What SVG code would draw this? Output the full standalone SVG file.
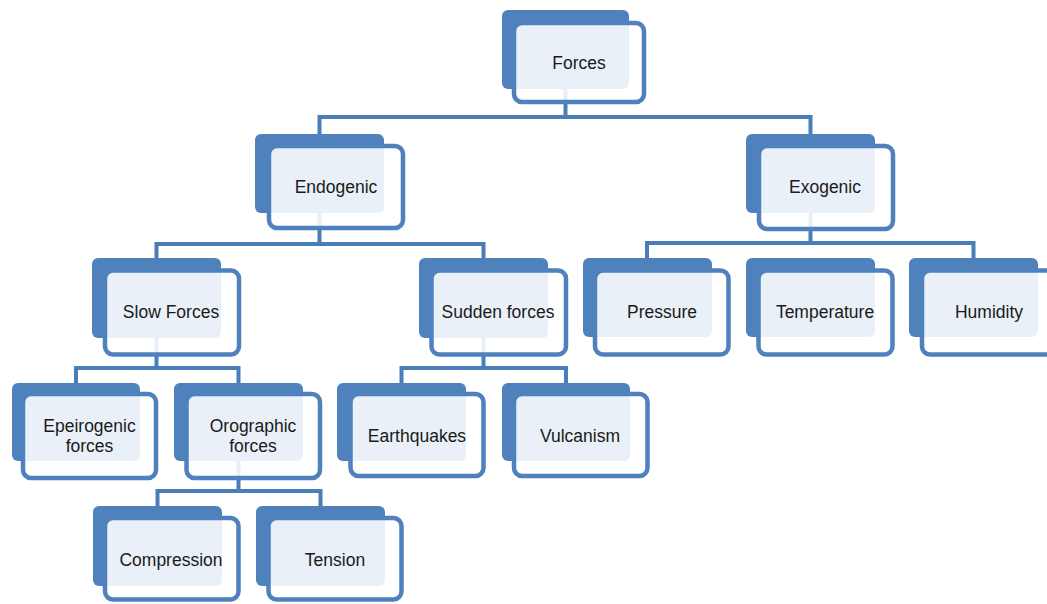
<svg xmlns="http://www.w3.org/2000/svg" width="1047" height="604" viewBox="0 0 1047 604">
<style>
.back{fill:#4F81BD}
.front{fill:#FFFFFF;fill-opacity:0.88;stroke:#4F81BD;stroke-width:4.5}
.conn{fill:none;stroke:#4A7EBB;stroke-width:4}
text{font-family:"Liberation Sans",Arial,sans-serif;font-size:17.5px;fill:#1A1A1A;text-anchor:middle}
</style>
<rect width="1047" height="604" fill="#FFFFFF"/>
<g id="connectors">
<path class="conn" d="M565.5,89 V117 M319.5,134 V117 H810.5 V134"/>
<path class="conn" d="M319.5,213 V244 M156.5,258 V244 H483.5 V258"/>
<path class="conn" d="M810.5,213 V243 M647,258 V243 H973.5 V258"/>
<path class="conn" d="M156.5,338 V368 M76,383 V368 H238.5 V383"/>
<path class="conn" d="M483.5,338 V368 M401.5,383 V368 H566 V383"/>
<path class="conn" d="M238.5,461 V491 M157.5,506 V491 H320.5 V506"/>
</g>
<g id="forces">
<rect class="back" x="502" y="10" width="127" height="79" rx="6"/>
<rect class="front" x="514" y="23" width="130" height="79" rx="8"/>
<text x="579" y="69">Forces</text>
</g>
<g id="endogenic">
<rect class="back" x="255" y="134" width="129" height="79" rx="6"/>
<rect class="front" x="269" y="146" width="134" height="82" rx="8"/>
<text x="336" y="193">Endogenic</text>
</g>
<g id="exogenic">
<rect class="back" x="746" y="134" width="129" height="79" rx="6"/>
<rect class="front" x="759" y="146" width="134" height="83" rx="8"/>
<text x="825" y="193">Exogenic</text>
</g>
<g id="slow-forces">
<rect class="back" x="92" y="258" width="129" height="80" rx="6"/>
<rect class="front" x="105" y="270.5" width="134" height="84" rx="8"/>
<text x="171" y="318">Slow Forces</text>
</g>
<g id="sudden-forces">
<rect class="back" x="419" y="258" width="129" height="80" rx="6"/>
<rect class="front" x="431.5" y="270.5" width="134.5" height="84" rx="8"/>
<text x="498" y="318">Sudden forces</text>
</g>
<g id="pressure">
<rect class="back" x="583" y="258" width="129" height="79" rx="6"/>
<rect class="front" x="595" y="270.5" width="133.5" height="84" rx="8"/>
<text x="662" y="318">Pressure</text>
</g>
<g id="temperature">
<rect class="back" x="746" y="258" width="129" height="79" rx="6"/>
<rect class="front" x="758.5" y="270.5" width="134" height="84" rx="8"/>
<text x="825" y="318">Temperature</text>
</g>
<g id="humidity">
<rect class="back" x="909" y="258" width="129" height="79" rx="6"/>
<rect class="front" x="922" y="270.5" width="134" height="84" rx="8"/>
<text x="989" y="318">Humidity</text>
</g>
<g id="epeirogenic">
<rect class="back" x="12" y="383" width="128" height="78" rx="6"/>
<rect class="front" x="23" y="394" width="133" height="84" rx="8"/>
<text x="89.5" y="432">Epeirogenic</text>
<text x="89.5" y="452">forces</text>
</g>
<g id="orographic">
<rect class="back" x="174" y="383" width="129" height="78" rx="6"/>
<rect class="front" x="186.5" y="394" width="133.5" height="84" rx="8"/>
<text x="253" y="432">Orographic</text>
<text x="253" y="452">forces</text>
</g>
<g id="earthquakes">
<rect class="back" x="337" y="383" width="129" height="78" rx="6"/>
<rect class="front" x="350.5" y="394" width="133" height="82" rx="8"/>
<text x="417" y="442">Earthquakes</text>
</g>
<g id="vulcanism">
<rect class="back" x="502" y="383" width="128" height="78" rx="6"/>
<rect class="front" x="514" y="394" width="133.5" height="82" rx="8"/>
<text x="580" y="442">Vulcanism</text>
</g>
<g id="compression">
<rect class="back" x="93" y="506" width="129" height="80" rx="6"/>
<rect class="front" x="105" y="518" width="133.5" height="81.5" rx="8"/>
<text x="171" y="566">Compression</text>
</g>
<g id="tension">
<rect class="back" x="256" y="506" width="129" height="80" rx="6"/>
<rect class="front" x="268.5" y="518" width="133" height="81.5" rx="8"/>
<text x="335" y="566">Tension</text>
</g>
</svg>
